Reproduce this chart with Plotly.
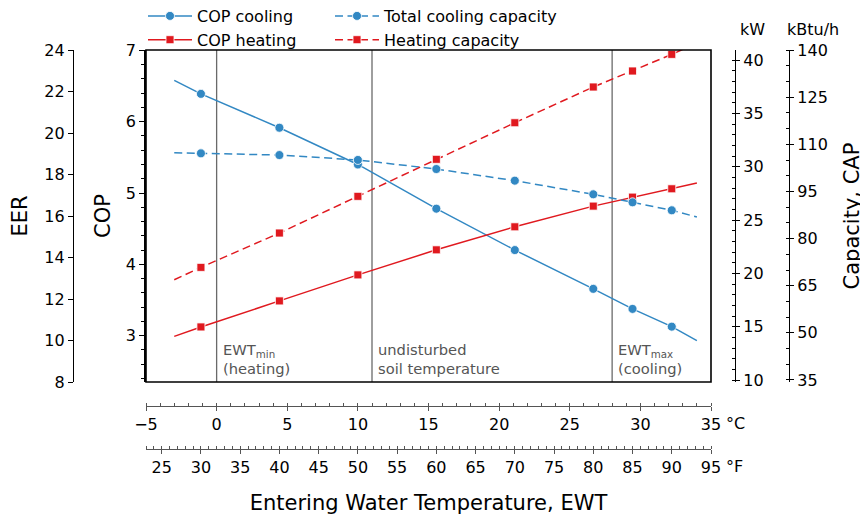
import plotly.graph_objects as go

# ---------------- data ----------------
ewt_f = [30, 40, 50, 60, 70, 80, 85, 90]            # measured points, °F
cop_cooling = [6.39, 5.915, 5.40, 4.78, 4.20, 3.656, 3.375, 3.126]
cop_heating = [3.122, 3.487, 3.852, 4.203, 4.526, 4.816, 4.942, 5.059]
cap_cooling_kw = [31.25, 31.09, 30.63, 29.78, 28.69, 27.41, 26.66, 25.91]
cap_heating_kw = [20.56, 23.78, 27.22, 30.69, 34.12, 37.47, 38.97, 40.53]

# fitted curves as drawn (°F)
line_f = [26.6, 30, 40, 50, 60, 70, 80, 85, 90, 93.2]
cop_cooling_line = [6.58, 6.39, 5.915, 5.40, 4.78, 4.20, 3.656, 3.375, 3.126, 2.93]
cop_heating_line = [2.99, 3.122, 3.487, 3.852, 4.203, 4.526, 4.816, 4.942, 5.059, 5.14]
cap_cooling_line = [31.31, 31.25, 31.09, 30.63, 29.78, 28.69, 27.41, 26.66, 25.91, 25.28]
cap_heating_line = [19.4, 20.56, 23.78, 27.22, 30.69, 34.12, 37.47, 38.97, 40.53, 41.6]

marker_lines_c = [0, 11, 28]
marker_texts = ["EWT<sub>min</sub><br>(heating)",
                "undisturbed<br>soil temperature",
                "EWT<sub>max</sub><br>(cooling)"]

c_ticks = [-5, 0, 5, 10, 15, 20, 25, 30, 35]
f_ticks = [25, 30, 35, 40, 45, 50, 55, 60, 65, 70, 75, 80, 85, 90, 95]

BLUE = "#3288c3"
RED = "#e0191f"
FONT = "DejaVu Sans"

# the page puts the figure at (8, 8); screen coordinates below refer to the window
W, H = 860, 511
ML, MR, MT, MB = 65, 79, 42, 70
PX0, PY1 = 73, 449          # screen position of paper left / paper bottom
PW, PH = W - ML - MR, H - MT - MB


def px_x(p):
    return (p - PX0) / PW


def px_y(p):
    return (PY1 - p) / PH


fig = go.Figure()

dash = "8px,4.5px"
mk_c = dict(symbol="circle", size=9, color=BLUE, line=dict(color="white", width=0.8))
mk_s = dict(symbol="square", size=8, color=RED, line=dict(color="white", width=0.8))

# lines
fig.add_trace(go.Scatter(x=line_f, y=cop_cooling_line, mode="lines", line=dict(color=BLUE, width=1.5),
                         xaxis="x2", yaxis="y", showlegend=False, hoverinfo="skip"))
fig.add_trace(go.Scatter(x=line_f, y=cop_heating_line, mode="lines", line=dict(color=RED, width=1.5),
                         xaxis="x2", yaxis="y", showlegend=False, hoverinfo="skip"))
fig.add_trace(go.Scatter(x=line_f, y=cap_cooling_line, mode="lines",
                         line=dict(color=BLUE, width=1.5, dash=dash),
                         xaxis="x2", yaxis="y3", showlegend=False, hoverinfo="skip"))
fig.add_trace(go.Scatter(x=line_f, y=cap_heating_line, mode="lines",
                         line=dict(color=RED, width=1.5, dash=dash),
                         xaxis="x2", yaxis="y3", showlegend=False, hoverinfo="skip"))
# markers
fig.add_trace(go.Scatter(x=ewt_f, y=cop_cooling, mode="markers", marker=mk_c,
                         xaxis="x2", yaxis="y", showlegend=False))
fig.add_trace(go.Scatter(x=ewt_f, y=cop_heating, mode="markers", marker=mk_s,
                         xaxis="x2", yaxis="y", showlegend=False))
fig.add_trace(go.Scatter(x=ewt_f, y=cap_cooling_kw, mode="markers", marker=mk_c,
                         xaxis="x2", yaxis="y3", showlegend=False))
fig.add_trace(go.Scatter(x=ewt_f, y=cap_heating_kw, mode="markers", marker=mk_s,
                         xaxis="x2", yaxis="y3", showlegend=False))
# legend entries
fig.add_trace(go.Scatter(x=[None], y=[None], mode="lines+markers", name="COP cooling",
                         line=dict(color=BLUE, width=1.5), marker=mk_c, legend="legend"))
fig.add_trace(go.Scatter(x=[None], y=[None], mode="lines+markers", name="COP heating",
                         line=dict(color=RED, width=1.5), marker=mk_s, legend="legend"))
fig.add_trace(go.Scatter(x=[None], y=[None], mode="lines+markers", name="Total cooling capacity",
                         line=dict(color=BLUE, width=1.5, dash=dash), marker=mk_c, legend="legend2"))
fig.add_trace(go.Scatter(x=[None], y=[None], mode="lines+markers", name="Heating capacity",
                         line=dict(color=RED, width=1.5, dash=dash), marker=mk_s, legend="legend2"))
# anchors for the otherwise empty axes
fig.add_trace(go.Scatter(x=[None], y=[None], xaxis="x", yaxis="y2", showlegend=False))
fig.add_trace(go.Scatter(x=[None], y=[None], xaxis="x", yaxis="y4", showlegend=False))

xdom = [px_x(146), px_x(711)]
ydom = [px_y(382), 1.0]

tickfont = dict(family=FONT, size=16, color="black")
titlefont = dict(family=FONT, size=21, color="black")

shapes = []
annotations = []
for xc, txt in zip(marker_lines_c, marker_texts):
    shapes.append(dict(type="line", xref="x", yref="y domain", x0=xc, x1=xc, y0=0, y1=1,
                       line=dict(color="#6a6a6a", width=1.3), layer="below"))
    annotations.append(dict(x=xc, xref="x", y=0, yref="y domain", xanchor="left", yanchor="bottom",
                            xshift=4, yshift=3, text=txt, showarrow=False, align="left",
                            font=dict(family=FONT, size=14.7, color="#555555")))
shapes.append(dict(type="rect", xref="x domain", yref="y domain", x0=0, x1=1, y0=0, y1=1,
                   line=dict(color="black", width=1.6), layer="above"))

annotations += [
    dict(x=35, xref="x", y=px_y(423), yref="paper", xanchor="left", yanchor="middle", xshift=13,
         text="°C", showarrow=False, font=tickfont),
    dict(x=95, xref="x2", y=px_y(467), yref="paper", xanchor="left", yanchor="middle", xshift=13,
         text="°F", showarrow=False, font=tickfont),
    dict(x=px_x(752), xref="paper", y=px_y(29), yref="paper", xanchor="center", yanchor="middle",
         text="kW", showarrow=False, font=tickfont),
    dict(x=px_x(813), xref="paper", y=px_y(29), yref="paper", xanchor="center", yanchor="middle",
         text="kBtu/h", showarrow=False, font=tickfont),
]

fig.update_layout(
    width=W, height=H,
    margin=dict(l=ML, r=MR, t=MT, b=MB, autoexpand=False),
    paper_bgcolor="white", plot_bgcolor="white",
    font=dict(family=FONT, size=16, color="black"),
    xaxis=dict(domain=xdom, range=[-5, 35], anchor="free", position=px_y(406),
               tickmode="array", tickvals=c_ticks, showgrid=False, zeroline=False,
               showline=True, linecolor="#555555", linewidth=1.3,
               ticks="outside", ticklen=4, tickwidth=1.2, tickcolor="#555555", tickfont=tickfont,
               minor=dict(dtick=1, tick0=0, ticks="inside", ticklen=3, tickcolor="#555555", showgrid=False)),
    xaxis2=dict(overlaying="x", range=[23, 95], anchor="free", position=0,
                tickmode="array", tickvals=f_ticks, showgrid=False, zeroline=False,
                showline=True, linecolor="#555555", linewidth=1.3,
                ticks="outside", ticklen=4, tickwidth=1.2, tickcolor="#555555", tickfont=tickfont,
                minor=dict(dtick=1, tick0=0, ticks="inside", ticklen=3, tickcolor="#555555", showgrid=False),
                title=dict(text="Entering Water Temperature, EWT", font=titlefont, standoff=18)),
    yaxis=dict(domain=ydom, range=[2.35, 7.005], anchor="x", side="left",
               dtick=1, tick0=3, showgrid=False, zeroline=False,
               showline=True, linecolor="black", linewidth=1.6,
               ticks="outside", ticklen=5, tickcolor="black", tickfont=tickfont,
               minor=dict(dtick=0.2, tick0=3, ticks="outside", ticklen=3, tickcolor="black", showgrid=False),
               title=dict(text="COP", font=titlefont, standoff=9)),
    yaxis2=dict(overlaying="y", range=[8, 24.005], anchor="free", position=0, side="left",
                dtick=2, tick0=8, showgrid=False, zeroline=False,
                showline=True, linecolor="black", linewidth=1.2,
                ticks="outside", ticklen=5, tickcolor="black", tickfont=tickfont,
                title=dict(text="EER", font=titlefont, standoff=10)),
    yaxis3=dict(overlaying="y", range=[9.8125, 40.94], anchor="free", position=px_x(735), side="right",
                dtick=5, tick0=10, showgrid=False, zeroline=False,
                showline=True, linecolor="black", linewidth=1.2,
                ticks="outside", ticklen=4, tickcolor="black", tickfont=tickfont,
                minor=dict(dtick=1, tick0=10, ticks="inside", ticklen=2.5, tickcolor="black", showgrid=False)),
    yaxis4=dict(overlaying="y", range=[34.36, 140.01], anchor="free", position=1, side="right",
                dtick=15, tick0=35, showgrid=False, zeroline=False,
                showline=True, linecolor="black", linewidth=1.2,
                ticks="outside", ticklen=4, tickcolor="black", tickfont=tickfont,
                minor=dict(dtick=5, tick0=35, ticks="inside", ticklen=2.5, tickcolor="black", showgrid=False),
                title=dict(text="Capacity, CAP", font=titlefont, standoff=17)),
    legend=dict(x=px_x(143), y=px_y(-1), xanchor="left", yanchor="top", itemwidth=44,
                bgcolor="rgba(0,0,0,0)", font=dict(family=FONT, size=16), tracegroupgap=0),
    legend2=dict(x=px_x(330), y=px_y(-1), xanchor="left", yanchor="top", itemwidth=44,
                 bgcolor="rgba(0,0,0,0)", font=dict(family=FONT, size=16), tracegroupgap=0),
    shapes=shapes,
    annotations=annotations,
    showlegend=True,
)

fig.write_html("out.html")
